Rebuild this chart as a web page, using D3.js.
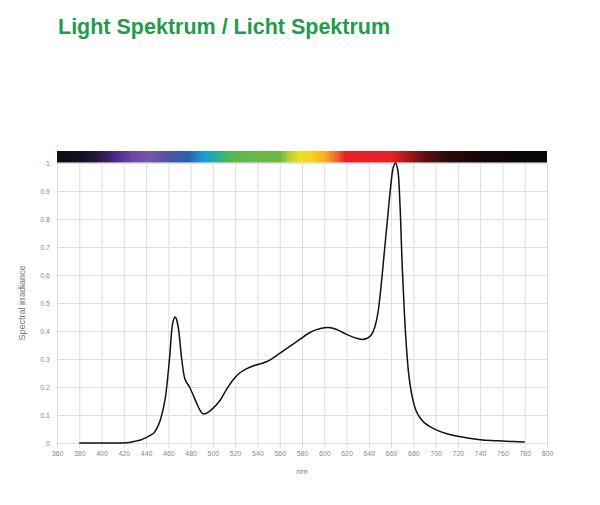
<!DOCTYPE html>
<html>
<head>
  <meta charset="UTF-8">
  <script src="https://cdn.jsdelivr.net/npm/d3@7"></script>
  <style>
      * { box-sizing: border-box; }
      html, body { margin: 0; padding: 0; background: #fff; }
      .grid line { stroke: #dedede; stroke-width: 1px; }
      .axis text { font-family: "Liberation Sans", Arial, sans-serif; font-size: 7px; fill: #8a8a8a; }
      .axis path, .axis line { display: none; }
      .line { fill: none; stroke: #111; stroke-width: 1.5px; }
  </style>
</head>
<body>
<div id="root"></div>
<script>

  // wavelength (nm) and relative spectral irradiance
  var wavelengths = [380, 400, 420, 425, 430, 435, 440, 444, 447, 450, 453, 457, 461, 464, 466, 467, 469, 472, 475, 479,
    484, 488, 491, 495, 499, 506, 512, 518, 524, 530, 536, 548, 560, 569, 578, 586, 593, 600, 606, 612, 620,
    628, 634, 638, 642, 645, 648, 651, 654, 657, 660, 662, 664, 666, 668, 670, 672, 674, 676, 679, 682,
    686, 690, 700, 710, 720, 730, 740, 750, 760, 770, 780];
  var irradiance = [0, 0, 0, 0.002, 0.006, 0.011, 0.019, 0.028, 0.036, 0.055, 0.085, 0.155, 0.30, 0.43, 0.45, 0.445, 0.41, 0.30, 0.227, 0.20,
    0.155, 0.12, 0.104, 0.108, 0.12, 0.15, 0.19, 0.225, 0.25, 0.265, 0.275, 0.29, 0.32, 0.345, 0.37, 0.392, 0.405, 0.412, 0.412, 0.404, 0.388,
    0.375, 0.37, 0.373, 0.385, 0.41, 0.46, 0.56, 0.685, 0.81, 0.93, 0.985, 1.0, 0.975, 0.85, 0.63, 0.46, 0.33, 0.24, 0.165, 0.12,
    0.09, 0.072, 0.048, 0.033, 0.024, 0.017, 0.012, 0.009, 0.007, 0.005, 0.004];

  var xTicks = d3.range(360, 801, 20);
  var yTicks = [0, 0.1, 0.2, 0.3, 0.4, 0.5, 0.6, 0.7, 0.8, 0.9, 1];

  // colour stops of the spectrum band on top
  var bandNm = [360, 383, 398, 413, 428, 443, 455, 467, 479, 491, 503, 515, 540, 560, 568, 578, 590, 601, 612, 619, 660, 676, 691, 712, 742, 800];
  var bandColors = ["#120c16", "#150e1c", "#2a1a44", "#4a2a8c", "#6a4aa2", "#7558a8", "#5a52a2", "#3c58a8", "#2a62b2", "#1a9ad2", "#22b0a0", "#52b850",
    "#6ab848", "#6cb946", "#b0d030", "#eee022", "#f2d020", "#f8ac22", "#f06030", "#e82028", "#e82028", "#a01818", "#5a1010", "#2a0a0a", "#120707", "#0a0606"];

  var title = "Light Spektrum / Licht Spektrum";
  var yLabel = "Spectral irradiance";
  var xLabel = "nm";

  var W = 600, H = 505;
  var x = d3.scaleLinear().domain([360, 800]).range([57, 547]);
  var y = d3.scaleLinear().domain([0, 1]).range([443, 163]);

  var svg = d3.select("#root").append("svg")
    .attr("width", W)
    .attr("height", H);

  svg.append("text")
    .attr("x", 58)
    .attr("y", 34)
    .attr("fill", "#239b48")
    .style("font-family", "'Liberation Sans', Arial, sans-serif")
    .style("font-weight", "bold")
    .style("font-size", "21.5px")
    .text(title);

  // spectrum band
  var grad = svg.append("defs").append("linearGradient")
    .attr("id", "band")
    .attr("gradientUnits", "userSpaceOnUse")
    .attr("x1", x(360)).attr("x2", x(800))
    .attr("y1", 0).attr("y2", 0);
  grad.selectAll("stop")
    .data(bandNm)
    .enter().append("stop")
    .attr("offset", function(d) { return (x(d) - x(360)) / (x(800) - x(360)); })
    .attr("stop-color", function(d, i) { return bandColors[i]; });

  svg.append("rect")
    .attr("x", x(360))
    .attr("y", 151)
    .attr("width", x(800) - x(360))
    .attr("height", 11.5)
    .attr("fill", "url(#band)");

  // grid
  var grid = svg.append("g").attr("class", "grid");
  grid.selectAll(".v")
    .data(xTicks)
    .enter().append("line")
    .attr("x1", function(d) { return x(d) + 0.5; })
    .attr("x2", function(d) { return x(d) + 0.5; })
    .attr("y1", y(1))
    .attr("y2", y(0) + 5);
  grid.selectAll(".h")
    .data(yTicks)
    .enter().append("line")
    .attr("x1", x(360))
    .attr("x2", x(800))
    .attr("y1", function(d) { return y(d) + 0.5; })
    .attr("y2", function(d) { return y(d) + 0.5; });

  // axes (labels only)
  svg.append("g")
    .attr("class", "axis")
    .attr("transform", "translate(0," + y(0) + ")")
    .call(d3.axisBottom(x).tickValues(xTicks).tickSize(0).tickPadding(8).tickFormat(d3.format("d")));

  svg.append("g")
    .attr("class", "axis")
    .attr("transform", "translate(" + x(360) + ",0)")
    .call(d3.axisLeft(y).tickValues(yTicks).tickSize(0).tickPadding(7).tickFormat(function(d) { return d === 0 || d === 1 ? d : d3.format(".1f")(d); }));

  // curve
  var data = wavelengths.map(function(d, i) { return { nm: d, v: irradiance[i] }; });
  svg.append("path")
    .datum(data)
    .attr("class", "line")
    .attr("d", d3.line()
      .x(function(d) { return x(d.nm); })
      .y(function(d) { return y(d.v); })
      .curve(d3.curveCatmullRom.alpha(0.5)));

  svg.append("text")
    .attr("transform", "translate(25,303) rotate(-90)")
    .attr("text-anchor", "middle")
    .attr("fill", "#777")
    .style("font-family", "'Liberation Sans', Arial, sans-serif")
    .style("font-size", "9px")
    .text(yLabel);

  svg.append("text")
    .attr("x", 302)
    .attr("y", 474)
    .attr("text-anchor", "middle")
    .attr("fill", "#777")
    .style("font-family", "'Liberation Sans', Arial, sans-serif")
    .style("font-size", "8px")
    .text(xLabel);

</script>
</body>
</html>
